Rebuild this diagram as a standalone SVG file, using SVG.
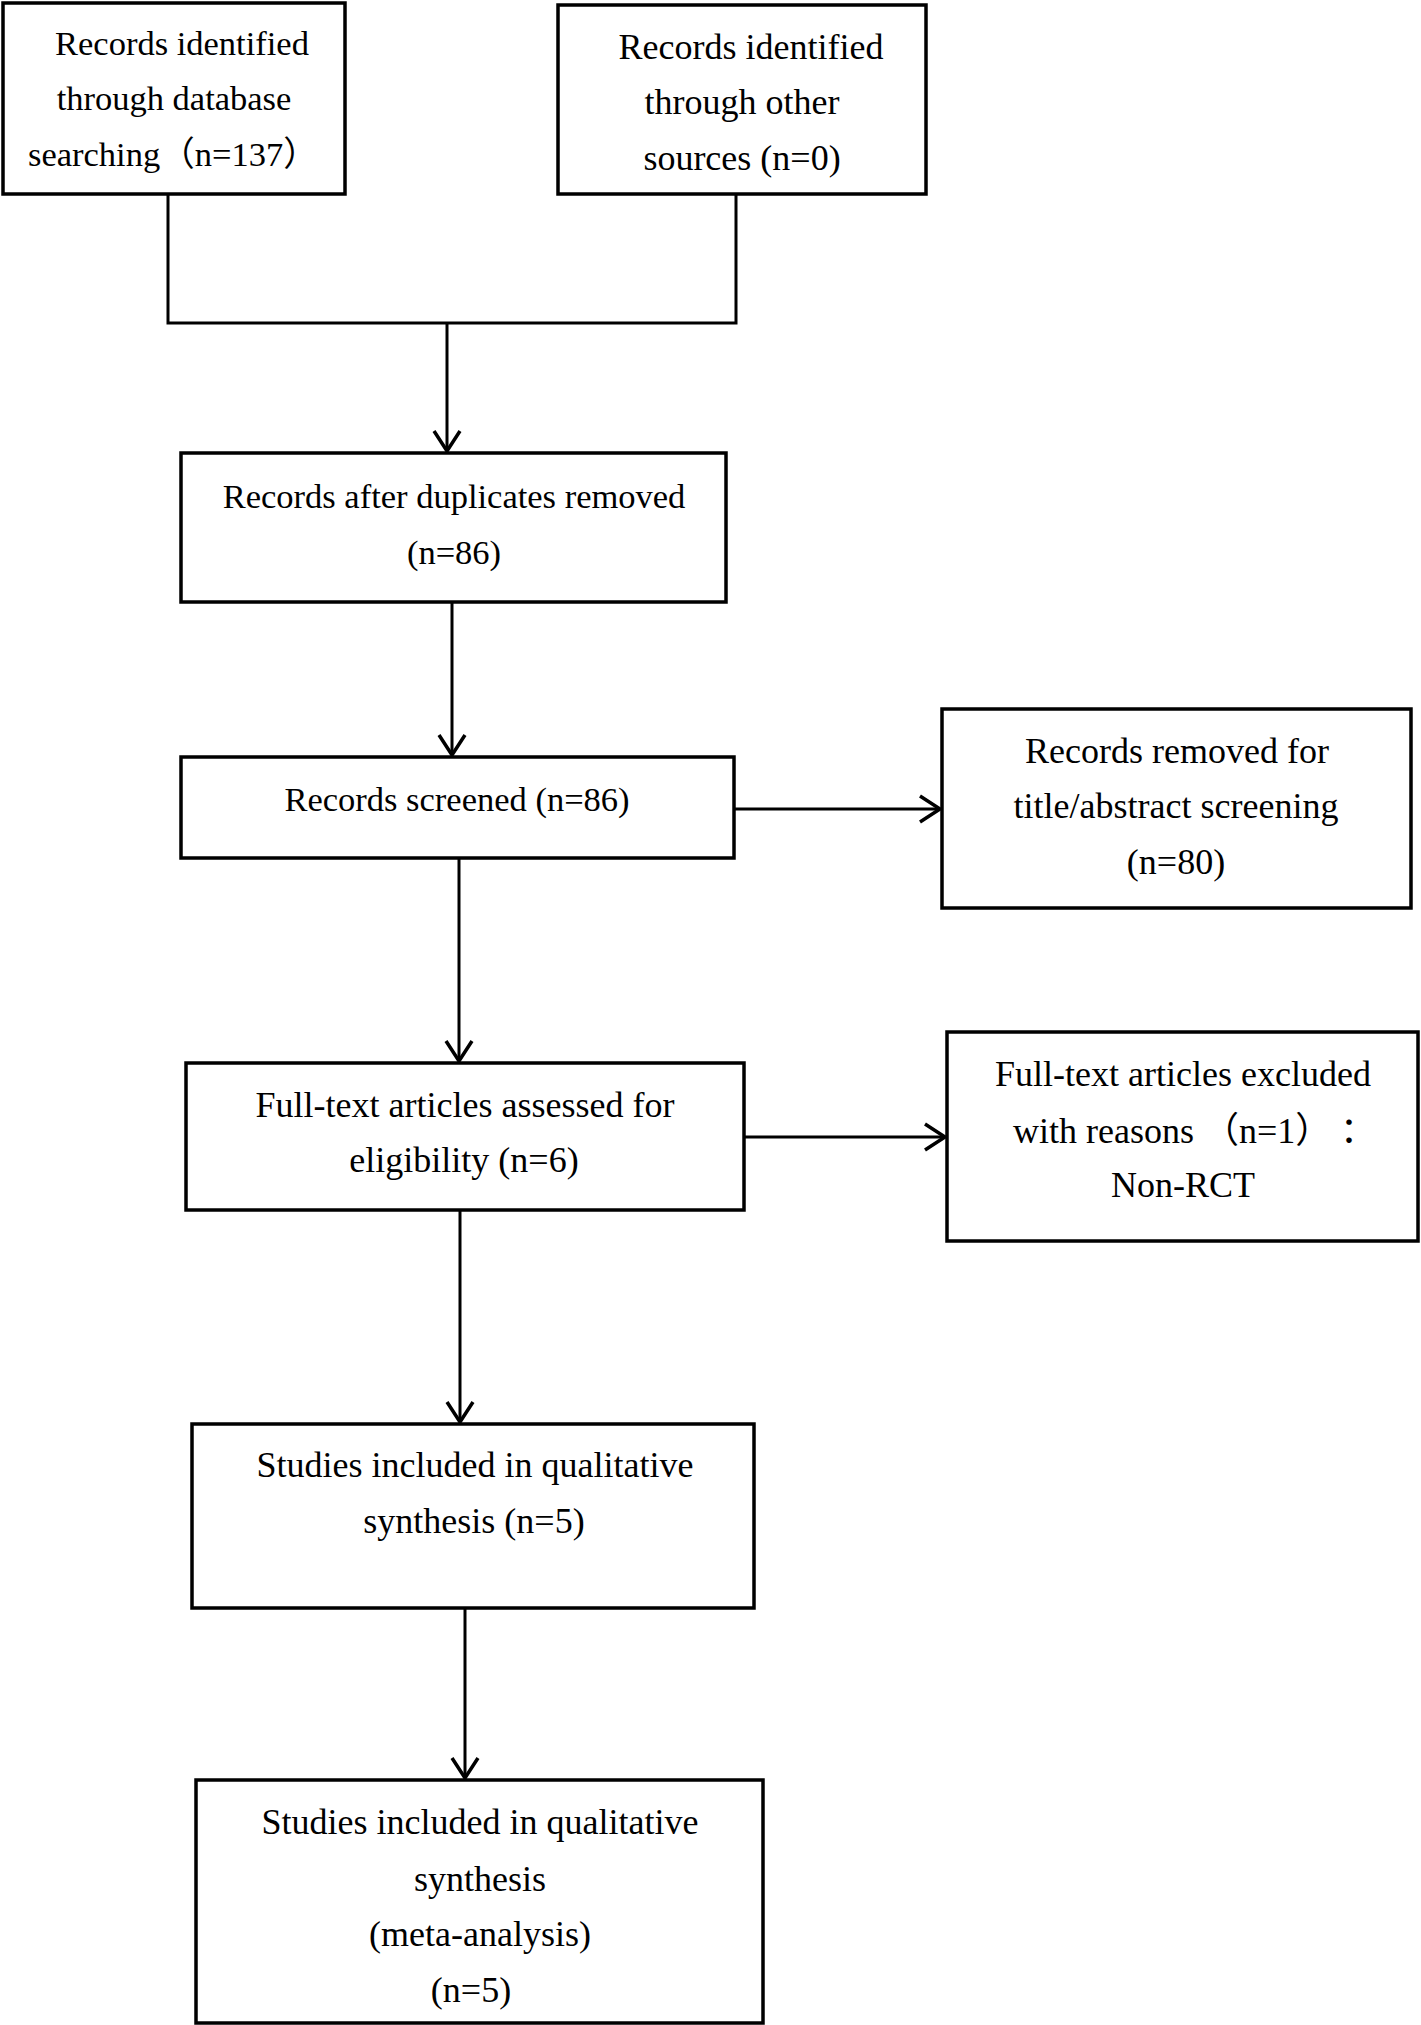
<svg xmlns="http://www.w3.org/2000/svg" width="1421" height="2025" viewBox="0 0 1421 2025">
<defs>
<style>
.box{fill:#fff;stroke:#000;stroke-width:3.5}
.ln{fill:none;stroke:#000;stroke-width:3}
.t{font-family:"Liberation Serif","Noto Sans CJK SC",serif;font-size:36px;fill:#000;text-anchor:middle}
.s{font-size:34.5px}
</style>
<marker id="ah" markerUnits="userSpaceOnUse" markerWidth="30" markerHeight="34" viewBox="-24 -17 28 34" refX="0" refY="0" orient="auto">
<path d="M-20,-13 L0,0 L-20,13" fill="none" stroke="#000" stroke-width="3.5"/>
</marker>
</defs>
<rect width="1421" height="2025" fill="#fff"/>
<g id="connectors">
<polyline class="ln" points="168,194 168,323 736,323 736,194"/>
<line class="ln" x1="447" y1="323" x2="447" y2="451" marker-end="url(#ah)"/>
<line class="ln" x1="452" y1="602" x2="452" y2="755" marker-end="url(#ah)"/>
<line class="ln" x1="734" y1="809" x2="940" y2="809" marker-end="url(#ah)"/>
<line class="ln" x1="459" y1="858" x2="459" y2="1061" marker-end="url(#ah)"/>
<line class="ln" x1="744" y1="1137" x2="945" y2="1137" marker-end="url(#ah)"/>
<line class="ln" x1="460" y1="1210" x2="460" y2="1422" marker-end="url(#ah)"/>
<line class="ln" x1="465" y1="1608" x2="465" y2="1778" marker-end="url(#ah)"/>
</g>
<g id="n1">
<rect class="box" x="3" y="3" width="342" height="191"/>
<text class="t s" x="182" y="55">Records identified</text>
<text class="t s" x="174" y="110">through database</text>
<text class="t s" x="28" y="166" style="text-anchor:start">searching（n=137）</text>
</g>
<g id="n2">
<rect class="box" x="558" y="5" width="368" height="189"/>
<text class="t" x="751" y="59">Records identified</text>
<text class="t" x="742" y="114">through other</text>
<text class="t" x="742" y="170">sources (n=0)</text>
</g>
<g id="n3">
<rect class="box" x="181" y="453" width="545" height="149"/>
<text class="t s" x="454" y="508">Records after duplicates removed</text>
<text class="t s" x="454" y="564">(n=86)</text>
</g>
<g id="n4">
<rect class="box" x="181" y="757" width="553" height="101"/>
<text class="t s" x="457" y="811">Records screened (n=86)</text>
</g>
<g id="n5">
<rect class="box" x="942" y="709" width="469" height="199"/>
<text class="t" x="1177" y="763">Records removed for</text>
<text class="t" x="1176" y="818">title/abstract screening</text>
<text class="t" x="1176" y="874">(n=80)</text>
</g>
<g id="n6">
<rect class="box" x="186" y="1063" width="558" height="147"/>
<text class="t" x="465" y="1117">Full-text articles assessed for</text>
<text class="t" x="464" y="1172">eligibility (n=6)</text>
</g>
<g id="n7">
<rect class="box" x="947" y="1032" width="471" height="209"/>
<text class="t" x="1013" y="1143" style="text-anchor:start">with reasons （n=1）<tspan x="1340">：</tspan></text>
<text class="t" x="1183" y="1086">Full-text articles excluded</text>
<text class="t" x="1183" y="1197">Non-RCT</text>
</g>
<g id="n8">
<rect class="box" x="192" y="1424" width="562" height="184"/>
<text class="t" x="475" y="1477">Studies included in qualitative</text>
<text class="t" x="474" y="1533">synthesis (n=5)</text>
</g>
<g id="n9">
<rect class="box" x="196" y="1780" width="567" height="243"/>
<text class="t" x="480" y="1834">Studies included in qualitative</text>
<text class="t" x="480" y="1891">synthesis</text>
<text class="t" x="480" y="1946">(meta-analysis)</text>
<text class="t" x="471" y="2002">(n=5)</text>
</g>
</svg>
